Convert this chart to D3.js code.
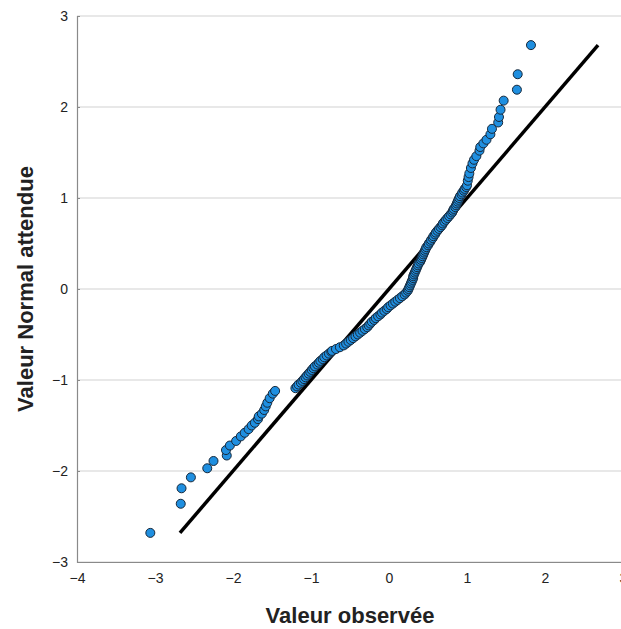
<!DOCTYPE html>
<html>
<head>
<meta charset="utf-8">
<script src="https://cdn.jsdelivr.net/npm/d3@7"></script>
<style>
  body { margin: 0; background: #fff; }
  svg text { font-family: "Liberation Sans", Arial, sans-serif; }
</style>
</head>
<body>
<div id="chart"></div>
<script>
const observed = [
  -3.06, -2.67, -2.66, -2.54, -2.33, -2.25, -2.08, -2.09, -2.04, -1.96,
  -1.90, -1.85, -1.80, -1.76, -1.72, -1.68, -1.67, -1.63, -1.60, -1.58,
  -1.56, -1.53, -1.49, -1.46,
  -1.20, -1.18, -1.16, -1.13, -1.11, -1.09, -1.07, -1.05, -1.03, -1.01,
  -0.99, -0.97, -0.95, -0.92, -0.90, -0.88, -0.85, -0.83, -0.80, -0.77,
  -0.74, -0.73, -0.68, -0.63, -0.58, -0.55, -0.52, -0.49, -0.46, -0.43,
  -0.40, -0.37, -0.34, -0.31, -0.28, -0.26, -0.24, -0.22, -0.19, -0.17,
  -0.14, -0.11, -0.09, -0.06, -0.03, -0.01, 0.02, 0.05, 0.08, 0.11,
  0.14, 0.17, 0.20, 0.22, 0.24, 0.25, 0.26, 0.27, 0.28, 0.29,
  0.30, 0.31, 0.31, 0.32, 0.33, 0.34, 0.35, 0.36, 0.37, 0.38,
  0.40, 0.41, 0.42, 0.43, 0.44, 0.45, 0.46, 0.47, 0.48, 0.50,
  0.51, 0.53, 0.54, 0.56, 0.57, 0.59, 0.60, 0.62, 0.64, 0.66,
  0.68, 0.69, 0.71, 0.73, 0.75, 0.77, 0.79, 0.81, 0.82, 0.83,
  0.85, 0.86, 0.87, 0.88, 0.89, 0.90, 0.91, 0.93, 0.94, 0.96,
  0.97, 0.99, 1.00,
  1.01, 1.02, 1.03, 1.05, 1.07, 1.09, 1.12, 1.16, 1.17, 1.21,
  1.25, 1.30, 1.32, 1.40, 1.41, 1.43, 1.47, 1.64, 1.65, 1.82
];
const expected = [
  -2.68, -2.36, -2.19, -2.07, -1.97, -1.89, -1.83, -1.77, -1.72, -1.67,
  -1.62, -1.58, -1.54, -1.50, -1.47, -1.43, -1.40, -1.37, -1.33, -1.29,
  -1.25, -1.20, -1.15, -1.12,
  -1.09, -1.07, -1.05, -1.03, -1.01, -0.99, -0.97, -0.95, -0.93, -0.91,
  -0.89, -0.87, -0.85, -0.83, -0.81, -0.79, -0.77, -0.75, -0.73, -0.71,
  -0.69, -0.68, -0.66, -0.64, -0.62, -0.60, -0.58, -0.56, -0.54, -0.52,
  -0.50, -0.48, -0.46, -0.44, -0.42, -0.40, -0.38, -0.36, -0.34, -0.32,
  -0.30, -0.28, -0.26, -0.24, -0.22, -0.20, -0.18, -0.16, -0.14, -0.12,
  -0.10, -0.08, -0.06, -0.04, -0.02, 0.00, 0.02, 0.04, 0.06, 0.08,
  0.10, 0.12, 0.14, 0.16, 0.18, 0.20, 0.22, 0.24, 0.26, 0.28,
  0.30, 0.32, 0.34, 0.36, 0.38, 0.40, 0.42, 0.44, 0.46, 0.48,
  0.50, 0.52, 0.54, 0.56, 0.58, 0.60, 0.62, 0.64, 0.66, 0.68,
  0.70, 0.72, 0.74, 0.76, 0.78, 0.80, 0.82, 0.84, 0.86, 0.88,
  0.90, 0.92, 0.94, 0.96, 0.98, 1.00, 1.02, 1.04, 1.06, 1.08,
  1.10, 1.12, 1.14,
  1.19, 1.23, 1.27, 1.33, 1.38, 1.42, 1.46, 1.52, 1.56, 1.60,
  1.64, 1.70, 1.76, 1.83, 1.89, 1.97, 2.07, 2.19, 2.36, 2.68
];
// reference line y = x
const refLine = [-2.68, 2.68];

const xTicks = [-4, -3, -2, -1, 0, 1, 2, 3];
const yTicks = [-3, -2, -1, 0, 1, 2, 3];

const points = observed.map((d, i) => ({ x: d, y: expected[i] }));

const width = 621, height = 629;
const svg = d3.select("#chart").append("svg")
  .attr("width", width).attr("height", height);

const x = d3.scaleLinear().domain([-4, 3]).range([77, 623]);
const y = d3.scaleLinear().domain([-3, 3]).range([562, 16]);

const fmt = d => d < 0 ? "\u2212" + Math.abs(d) : d;

// horizontal grid
svg.append("g").selectAll("line")
  .data(yTicks)
  .join("line")
  .attr("x1", x(-4)).attr("x2", width)
  .attr("y1", d => y(d)).attr("y2", d => y(d))
  .attr("stroke", "#d2d2d2").attr("stroke-width", 1.2);

// axes
const yAxis = svg.append("g")
  .attr("transform", `translate(${x(-4)},0)`)
  .call(d3.axisRight(y).tickValues(yTicks).tickSize(3).tickFormat(""));
yAxis.select(".domain").attr("stroke", "#8a8a8a").attr("stroke-width", 1.2);
yAxis.selectAll(".tick line").attr("stroke", "#8a8a8a");

svg.append("g").selectAll("text")
  .data(yTicks)
  .join("text")
  .attr("x", 68).attr("y", d => y(d))
  .attr("dy", "0.35em")
  .attr("text-anchor", "end")
  .attr("font-size", 14)
  .attr("fill", "#222")
  .text(fmt);

const xAxis = svg.append("g")
  .attr("transform", `translate(0,${y(-3)})`)
  .call(d3.axisBottom(x).tickValues(xTicks).tickSize(0).tickPadding(11).tickFormat(fmt));
xAxis.select(".domain").attr("stroke", "#8a8a8a").attr("stroke-width", 1.2);
xAxis.selectAll("text").attr("font-size", 14).attr("fill", "#222")
  .style("font-family", "Liberation Sans, Arial, sans-serif");

// reference line
svg.append("line")
  .attr("x1", x(refLine[0])).attr("y1", y(refLine[0]))
  .attr("x2", x(refLine[1])).attr("y2", y(refLine[1]))
  .attr("stroke", "#000").attr("stroke-width", 3.5);

// points
svg.append("g").selectAll("circle")
  .data(points)
  .join("circle")
  .attr("cx", d => x(d.x))
  .attr("cy", d => y(d.y))
  .attr("r", 4.5)
  .attr("fill", "#1f8fe0")
  .attr("stroke", "#17283a")
  .attr("stroke-width", 1);

// axis titles
svg.append("text")
  .attr("x", 350).attr("y", 623)
  .attr("text-anchor", "middle")
  .attr("font-size", 22).attr("font-weight", "bold")
  .attr("fill", "#222")
  .text("Valeur observée");

svg.append("text")
  .attr("transform", `translate(33,${y(0)}) rotate(-90)`)
  .attr("text-anchor", "middle")
  .attr("font-size", 22).attr("font-weight", "bold")
  .attr("fill", "#222")
  .text("Valeur Normal attendue");
</script>
</body>
</html>
